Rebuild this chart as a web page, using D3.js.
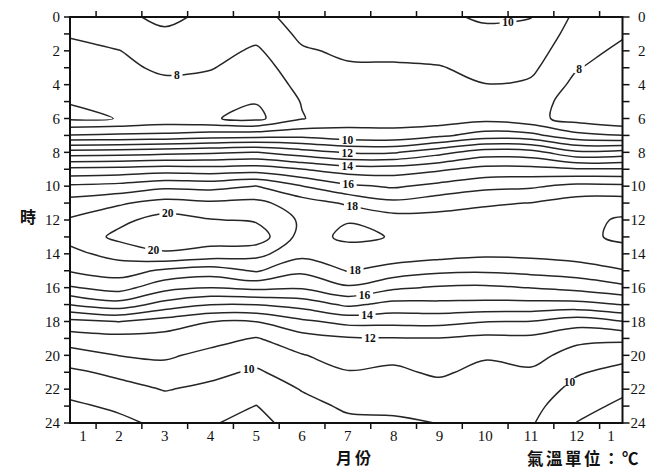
<!DOCTYPE html>
<html><head><meta charset="utf-8">
<script src="https://cdn.jsdelivr.net/npm/d3@7"></script>
<style>body{margin:0;background:#fff}
.serif{font-family:'Liberation Serif','DejaVu Serif','Times New Roman',serif}
.cjk{font-family:'Noto Sans CJK TC','Noto Sans CJK SC',sans-serif}
</style>
</head><body>
<svg id="chart" width="666" height="472"></svg>
<script>
// ---- data: hourly temperature (°C) profiles, one array per month column ----
const monthPos = [0.93, 2, 3, 4, 5, 6, 7, 8, 9, 10, 11, 12, 13];
const hours = [0,1,2,3,4,5,6,7,8,9,10,11,12,13,14,15,16,17,18,19,20,21,22,23,24];
const m01 = [8.6, 8.1, 7.7, 7.6, 7.4, 7.03, 6.85, 9.07, 12.43, 15.25, 17.16, 18.44, 19.1, 19.3, 18.73, 18.07, 16.9, 15.02, 12.71, 11.5, 10.57, 9.81, 9.25, 8.85, 8.6];
const m02 = [8.8, 8.4, 7.98, 7.75, 7.55, 7.25, 7.02, 9.17, 12.5, 15.33, 17.33, 18.87, 19.75, 20.25, 19.35, 18.43, 17.4, 15.6, 13.02, 11.67, 11.02, 10.23, 9.65, 9.15, 8.8];
const m03 = [9.2, 8.85, 8.4, 8.2, 7.75, 7.45, 7.3, 9.25, 12.67, 15.5, 17.75, 19.36, 20.4, 20.5, 19.9, 17.83, 16.33, 14.6, 12.55, 11.65, 11.15, 10.61, 10.05, 9.6, 9.2];
const m04 = [8.8, 8.55, 8.35, 8.05, 7.7, 7.15, 7.08, 9.5, 12.83, 15.4, 17.67, 19.17, 20.05, 20.5, 19.6, 17.5, 16.02, 14.02, 12.02, 11.33, 10.74, 10.23, 9.8, 9.4, 9.05];
const m05 = [8.75, 8.3, 7.85, 7.6, 7.4, 7.05, 6.75, 9.6, 13.02, 15.5, 18.02, 19.25, 19.88, 20.6, 19.3, 18.1, 16.25, 14.02, 12.02, 10.94, 10.39, 9.87, 9.43, 8.98, 8.8];
const m06 = [9.3, 9.2, 8.9, 8.5, 8.25, 8.05, 7.95, 9.7, 12.43, 15.02, 17.02, 18.5, 18.85, 18.6, 18.3, 17.2, 16.12, 14.4, 12.8, 11.6, 10.95, 10.5, 10.05, 9.7, 9.3];
const m07 = [9.5, 9.4, 9.15, 8.9, 8.7, 8.5, 8.6, 9.35, 11.9, 14.5, 16.2, 17.85, 18.95, 19.2, 18.55, 18.05, 16.85, 15.2, 13.3, 11.9, 11.4, 10.95, 10.5, 10.15, 9.8];
const m08 = [9.6, 9.45, 9.2, 8.9, 8.75, 8.65, 8.6, 9.31, 11.9, 14.5, 15.87, 17.25, 18.5, 18.95, 18.6, 17.55, 16.15, 14.7, 13.29, 11.95, 11.2, 10.85, 10.6, 10.2, 9.85];
const m09 = [9.8, 9.6, 9.3, 8.95, 8.8, 8.55, 8.45, 9.8, 12.67, 14.85, 16.29, 17.63, 18.35, 18.7, 18.4, 17.2, 15.89, 14.75, 13.33, 11.96, 11.54, 11.13, 10.7, 10.35, 10.02];
const m10 = [10.15, 9.75, 9.5, 9.25, 8.98, 8.8, 8.7, 10.43, 13.5, 15.31, 16.73, 17.89, 18.4, 18.6, 18.2, 17.13, 15.83, 14.71, 13.03, 11.75, 11.1, 10.75, 10.55, 10.4, 10.3];
const m11 = [10.02, 9.7, 9.45, 9.2, 8.85, 8.35, 8.3, 10.29, 13.38, 15.33, 16.86, 18.02, 18.45, 18.6, 18.25, 17.3, 16.02, 14.69, 12.98, 11.77, 11.32, 10.86, 10.6, 10.3, 10.1];
const m12 = [8.8, 8.6, 8.35, 8.05, 7.75, 7.65, 7.6, 9.3, 12.2, 15.1, 17.27, 18.45, 18.7, 18.75, 18.45, 17.5, 16.3, 14.67, 12.43, 11.25, 10.63, 10.1, 9.7, 9.35, 8.98];
const m13 = [8.6, 8.1, 7.8, 7.6, 7.5, 7.3, 7.15, 9.02, 12.35, 15.1, 17.2, 18.5, 19.12, 19.18, 18.65, 17.95, 16.75, 15.03, 12.98, 11.2, 10.3, 9.7, 9.2, 8.8, 8.6];
const levels = [7, 8, 9, 10, 11, 12, 13, 14, 15, 16, 17, 18, 19, 20];
const monthTicks = [1.5, 2.5, 3.5, 4.5, 5.5, 6.5, 7.5, 8.5, 9.5, 10.5, 11.5, 12.5];
const monthLabels = ["1","2","3","4","5","6","7","8","9","10","11","12","1"];
const hourTicks = hours;
const hourLabels = [0, 2, 4, 6, 8, 10, 12, 14, 16, 18, 20, 22, 24];
const labelLevels = [8, 8, 10, 10, 12, 14, 16, 18, 20, 20, 18, 16, 14, 12, 10, 10];
const labelMonth  = [3.27, 12.07, 10.5, 7.0, 7.0, 7.0, 7.02, 7.09, 3.07, 2.74, 7.16, 7.37, 7.42, 7.5, 4.82, 11.81];
const labelHour   = [3.72, 3.13, 0.47, 7.27, 8.04, 8.81, 9.87, 11.11, 11.7, 13.89, 15.07, 16.61, 17.61, 18.91, 20.75, 21.45];

const cols = [m01, m02, m03, m04, m05, m06, m07, m08, m09, m10, m11, m12, m13];

// ---- layout ----
const svg = d3.select('#chart');
const L = 70, R = 622.5, T = 17, B = 423;
const x = d3.scaleLinear().domain([0.93, 13]).range([L, R]);
const y = d3.scaleLinear().domain([0, 24]).range([T, B]);

svg.append('rect').attr('width', 666).attr('height', 472).attr('fill', '#fff');
svg.append('defs').append('clipPath').attr('id', 'clip')
  .append('rect').attr('x', L).attr('y', T).attr('width', R - L).attr('height', B - T);

// ---- marching squares isolines ----
const nx = monthPos.length, ny = hours.length;
const z = (i, j) => cols[i][j];
function isolines(level) {
  const pts = new Map(), adj = new Map();
  function ep(k, ai, aj, bi, bj) {
    if (!pts.has(k)) {
      const va = z(ai, aj), vb = z(bi, bj);
      const t = (level - va) / (vb - va);
      pts.set(k, [monthPos[ai] + t * (monthPos[bi] - monthPos[ai]), hours[aj] + t * (hours[bj] - hours[aj])]);
    }
    return k;
  }
  function link(a, b) {
    if (!adj.has(a)) adj.set(a, []);
    if (!adj.has(b)) adj.set(b, []);
    adj.get(a).push(b); adj.get(b).push(a);
  }
  for (let i = 0; i < nx - 1; i++) for (let j = 0; j < ny - 1; j++) {
    const a = z(i, j) > level, b = z(i + 1, j) > level, c = z(i + 1, j + 1) > level, d = z(i, j + 1) > level;
    const e0 = a !== b ? ep('h' + i + '_' + j, i, j, i + 1, j) : null;
    const e1 = b !== c ? ep('v' + (i + 1) + '_' + j, i + 1, j, i + 1, j + 1) : null;
    const e2 = d !== c ? ep('h' + i + '_' + (j + 1), i, j + 1, i + 1, j + 1) : null;
    const e3 = a !== d ? ep('v' + i + '_' + j, i, j, i, j + 1) : null;
    const list = [e0, e1, e2, e3].filter(e => e);
    if (list.length === 2) link(list[0], list[1]);
    else if (list.length === 4) {
      const ctr = (z(i, j) + z(i + 1, j) + z(i + 1, j + 1) + z(i, j + 1)) / 4 > level;
      if (a) { if (ctr) { link(e0, e1); link(e2, e3); } else { link(e0, e3); link(e1, e2); } }
      else { if (ctr) { link(e0, e3); link(e1, e2); } else { link(e0, e1); link(e2, e3); } }
    }
  }
  const seen = new Set(), chains = [];
  function walk(start, closed) {
    const chain = []; let prev = null, cur = start;
    while (cur !== undefined && !seen.has(cur)) {
      seen.add(cur); chain.push(pts.get(cur));
      const n = adj.get(cur).find(q => q !== prev && !seen.has(q));
      prev = cur; cur = n;
    }
    chains.push({ closed, pts: chain });
  }
  for (const [k, nb] of adj) if (nb.length === 1 && !seen.has(k)) walk(k, false);
  for (const [k] of adj) if (!seen.has(k)) walk(k, true);
  return chains;
}

const openLine = d3.line().x(d => x(d[0])).y(d => y(d[1])).curve(d3.curveCatmullRom.alpha(0.5));
const closedLine = d3.line().x(d => x(d[0])).y(d => y(d[1])).curve(d3.curveCatmullRomClosed.alpha(0.5));

const gC = svg.append('g').attr('clip-path', 'url(#clip)');
const pathsByLevel = {};
levels.forEach(lv => {
  pathsByLevel[lv] = [];
  isolines(lv).forEach(ch => {
    if (ch.pts.length < 2) return;
    const p = gC.append('path')
      .attr('d', ch.closed ? closedLine(ch.pts) : openLine(ch.pts))
      .attr('fill', 'none').attr('stroke', '#262626').attr('stroke-width', 1.5)
      .attr('stroke-linejoin', 'round');
    pathsByLevel[lv].push(p.node());
  });
});

// ---- contour labels, snapped onto their isoline ----
const gL = svg.append('g');
labelLevels.forEach((lv, i) => {
  const tx = x(labelMonth[i]), ty = y(labelHour[i]);
  let best = [tx, ty], bd = Infinity;
  (pathsByLevel[lv] || []).forEach(node => {
    const len = node.getTotalLength();
    for (let s = 0; s <= len; s += 1.5) {
      const p = node.getPointAtLength(s);
      const dd = (p.x - tx) ** 2 + (p.y - ty) ** 2;
      if (dd < bd) { bd = dd; best = [p.x, p.y]; }
    }
  });
  if (bd > 400) best = [tx, ty];
  const g = gL.append('g');
  const t = g.append('text').attr('class', 'serif').attr('x', best[0]).attr('y', best[1]).attr('dy', '0.35em')
    .attr('text-anchor', 'middle').attr('font-weight', 'bold')
    .attr('font-size', 11.5).attr('fill', '#111').text(lv);
  const bb = t.node().getBBox();
  g.insert('rect', 'text').attr('x', bb.x - 2.5).attr('y', bb.y + 2).attr('width', bb.width + 5)
    .attr('height', bb.height - 4).attr('fill', '#fff');
});

// ---- frame & axes ----
const gA = svg.append('g').attr('stroke', '#111');
gA.append('rect').attr('x', L).attr('y', T).attr('width', R - L).attr('height', B - T)
  .attr('fill', 'none').attr('stroke-width', 2);
hourTicks.forEach(h => {
  gA.append('line').attr('x1', L - 6).attr('x2', L).attr('y1', y(h)).attr('y2', y(h)).attr('stroke-width', 1.5);
  gA.append('line').attr('x1', R).attr('x2', R + 7).attr('y1', y(h)).attr('y2', y(h)).attr('stroke-width', 1.5);
});
monthTicks.forEach(m => {
  gA.append('line').attr('x1', x(m)).attr('x2', x(m)).attr('y1', T - 6).attr('y2', T).attr('stroke-width', 1.5);
  gA.append('line').attr('x1', x(m)).attr('x2', x(m)).attr('y1', B).attr('y2', B + 6).attr('stroke-width', 1.5);
});
const gT = svg.append('g').attr('class', 'serif').attr('font-size', 15).attr('fill', '#111');
hourLabels.forEach(h => {
  gT.append('text').attr('x', L - 10).attr('y', y(h)).attr('dy', '0.35em').attr('text-anchor', 'end').text(h);
  gT.append('text').attr('x', R + 23).attr('y', y(h)).attr('dy', '0.35em').attr('text-anchor', 'end').text(h);
});
const bounds = [x.domain()[0]].concat(monthTicks, [x.domain()[1]]);
monthLabels.forEach((lab, i) => {
  const cx = (x(bounds[i]) + x(bounds[i + 1])) / 2;
  gT.append('text').attr('x', cx).attr('y', 441).attr('text-anchor', 'middle').text(lab);
});
svg.append('text').attr('class', 'cjk').attr('x', 28).attr('y', 223).attr('text-anchor', 'middle')
  .attr('font-weight', 'bold').attr('font-size', 16).attr('fill', '#111').text('時');
svg.append('text').attr('class', 'cjk').attr('x', 355).attr('y', 464).attr('text-anchor', 'middle')
  .attr('font-weight', 'bold').attr('font-size', 16).attr('fill', '#111')
  .attr('letter-spacing', 3).text('月份');
svg.append('text').attr('class', 'cjk').attr('x', 527).attr('y', 465).attr('text-anchor', 'start')
  .attr('font-weight', 'bold').attr('font-size', 16.5).attr('fill', '#111')
  .attr('letter-spacing', 2.5).text('氣溫單位：℃');
</script>
</body></html>
